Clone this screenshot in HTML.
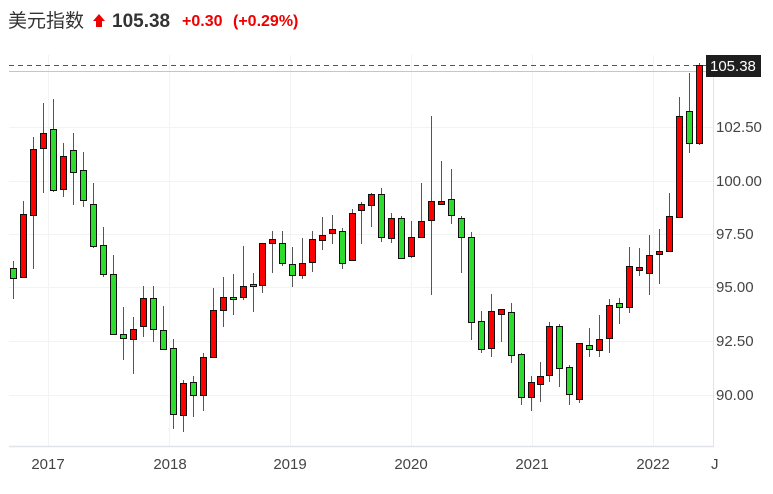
<!DOCTYPE html>
<html><head><meta charset="utf-8"><style>
body{margin:0;background:#fff;width:773px;height:489px;overflow:hidden;font-family:"Liberation Sans","Noto Sans CJK SC",sans-serif}
.w{stroke:#555;stroke-width:1}
.r{fill:#f00;stroke:#111}
.g{fill:#2ddc2d;stroke:#111}
</style></head><body>
<svg width="773" height="489" xmlns="http://www.w3.org/2000/svg" font-family="Liberation Sans, Noto Sans CJK SC, sans-serif">
<text x="8" y="27" font-size="19" fill="#333">美元指数</text>
<polygon points="99,14 105,21 102,21 102,27 96,27 96,21 93,21" fill="#e00"/>
<text x="112" y="27" font-size="19" font-weight="bold" fill="#333">105.38</text>
<text x="182" y="26" font-size="16" font-weight="bold" fill="#e00">+0.30</text>
<text x="233" y="26" font-size="16" font-weight="bold" fill="#e00">(+0.29%)</text>
<g stroke="#f2f3f5" stroke-width="1">
<line x1="9" y1="127.5" x2="713" y2="127.5"/><line x1="9" y1="181.5" x2="713" y2="181.5"/><line x1="9" y1="234.5" x2="713" y2="234.5"/><line x1="9" y1="287.5" x2="713" y2="287.5"/><line x1="9" y1="341.5" x2="713" y2="341.5"/><line x1="9" y1="395.5" x2="713" y2="395.5"/>
<line x1="48.5" y1="55" x2="48.5" y2="446"/><line x1="169.5" y1="55" x2="169.5" y2="446"/><line x1="290.5" y1="55" x2="290.5" y2="446"/><line x1="411.5" y1="55" x2="411.5" y2="446"/><line x1="532.5" y1="55" x2="532.5" y2="446"/><line x1="653.5" y1="55" x2="653.5" y2="446"/>
</g>
<line x1="713.5" y1="55" x2="713.5" y2="447" stroke="#dfe3ea"/>
<line x1="9" y1="446.5" x2="714" y2="446.5" stroke="#dfe3ea" stroke-width="1.5"/>
<line x1="9" y1="71.5" x2="713" y2="71.5" stroke="#f0b4b4"/>
<line x1="9" y1="65.5" x2="706" y2="65.5" stroke="#555" stroke-dasharray="5,4"/>
<g>
<line class="w" x1="13.5" y1="261" x2="13.5" y2="299"/><rect class="g" x="10.5" y="268.5" width="6" height="10"/>
<line class="w" x1="23.5" y1="201" x2="23.5" y2="277"/><rect class="r" x="20.5" y="214.5" width="6" height="63"/>
<line class="w" x1="33.5" y1="137" x2="33.5" y2="269"/><rect class="r" x="30.5" y="149.5" width="6" height="66"/>
<line class="w" x1="43.5" y1="103" x2="43.5" y2="193"/><rect class="r" x="40.5" y="133.5" width="6" height="15"/>
<line class="w" x1="53.5" y1="99" x2="53.5" y2="192"/><rect class="g" x="50.5" y="129.5" width="6" height="61"/>
<line class="w" x1="63.5" y1="143" x2="63.5" y2="197"/><rect class="r" x="60.5" y="156.5" width="6" height="33"/>
<line class="w" x1="73.5" y1="133" x2="73.5" y2="205"/><rect class="g" x="70.5" y="150.5" width="6" height="22"/>
<line class="w" x1="83.5" y1="152" x2="83.5" y2="207"/><rect class="g" x="80.5" y="170.5" width="6" height="30"/>
<line class="w" x1="93.5" y1="183" x2="93.5" y2="248"/><rect class="g" x="90.5" y="204.5" width="6" height="42"/>
<line class="w" x1="103.5" y1="227" x2="103.5" y2="277"/><rect class="g" x="100.5" y="245.5" width="6" height="29"/>
<line class="w" x1="113.5" y1="255" x2="113.5" y2="335"/><rect class="g" x="110.5" y="274.5" width="6" height="60"/>
<line class="w" x1="123.5" y1="307" x2="123.5" y2="360"/><rect class="g" x="120.5" y="334.5" width="6" height="4"/>
<line class="w" x1="133.5" y1="317" x2="133.5" y2="374"/><rect class="r" x="130.5" y="329.5" width="6" height="10"/>
<line class="w" x1="143.5" y1="286" x2="143.5" y2="337"/><rect class="r" x="140.5" y="298.5" width="6" height="28"/>
<line class="w" x1="153.5" y1="286" x2="153.5" y2="342"/><rect class="g" x="150.5" y="298.5" width="6" height="31"/>
<line class="w" x1="163.5" y1="306" x2="163.5" y2="350"/><rect class="g" x="160.5" y="330.5" width="6" height="19"/>
<line class="w" x1="173.5" y1="339" x2="173.5" y2="429"/><rect class="g" x="170.5" y="348.5" width="6" height="66"/>
<line class="w" x1="183.5" y1="380" x2="183.5" y2="432"/><rect class="r" x="180.5" y="383.5" width="6" height="32"/>
<line class="w" x1="193.5" y1="376" x2="193.5" y2="417"/><rect class="g" x="190.5" y="382.5" width="6" height="13"/>
<line class="w" x1="203.5" y1="353" x2="203.5" y2="411"/><rect class="r" x="200.5" y="357.5" width="6" height="38"/>
<line class="w" x1="213.5" y1="288" x2="213.5" y2="357"/><rect class="r" x="210.5" y="310.5" width="6" height="47"/>
<line class="w" x1="223.5" y1="277" x2="223.5" y2="327"/><rect class="r" x="220.5" y="297.5" width="6" height="13"/>
<line class="w" x1="233.5" y1="274" x2="233.5" y2="315"/><rect class="g" x="230.5" y="297.5" width="6" height="2"/>
<line class="w" x1="243.5" y1="246" x2="243.5" y2="300"/><rect class="r" x="240.5" y="286.5" width="6" height="11"/>
<line class="w" x1="253.5" y1="273" x2="253.5" y2="312"/><rect class="g" x="250.5" y="284.5" width="6" height="2"/>
<line class="w" x1="262.5" y1="243" x2="262.5" y2="293"/><rect class="r" x="259.5" y="243.5" width="6" height="42"/>
<line class="w" x1="272.5" y1="231" x2="272.5" y2="273"/><rect class="r" x="269.5" y="239.5" width="6" height="4"/>
<line class="w" x1="282.5" y1="231" x2="282.5" y2="266"/><rect class="g" x="279.5" y="243.5" width="6" height="20"/>
<line class="w" x1="292.5" y1="247" x2="292.5" y2="287"/><rect class="g" x="289.5" y="264.5" width="6" height="11"/>
<line class="w" x1="302.5" y1="238" x2="302.5" y2="279"/><rect class="r" x="299.5" y="263.5" width="6" height="12"/>
<line class="w" x1="312.5" y1="231" x2="312.5" y2="272"/><rect class="r" x="309.5" y="239.5" width="6" height="23"/>
<line class="w" x1="322.5" y1="217" x2="322.5" y2="250"/><rect class="r" x="319.5" y="235.5" width="6" height="5"/>
<line class="w" x1="332.5" y1="215" x2="332.5" y2="244"/><rect class="r" x="329.5" y="229.5" width="6" height="4"/>
<line class="w" x1="342.5" y1="228" x2="342.5" y2="269"/><rect class="g" x="339.5" y="231.5" width="6" height="32"/>
<line class="w" x1="352.5" y1="209" x2="352.5" y2="260"/><rect class="r" x="349.5" y="213.5" width="6" height="47"/>
<line class="w" x1="361.5" y1="202" x2="361.5" y2="244"/><rect class="r" x="358.5" y="204.5" width="6" height="6"/>
<line class="w" x1="371.5" y1="193" x2="371.5" y2="227"/><rect class="r" x="368.5" y="194.5" width="6" height="11"/>
<line class="w" x1="381.5" y1="188" x2="381.5" y2="242"/><rect class="g" x="378.5" y="194.5" width="6" height="43"/>
<line class="w" x1="391.5" y1="213" x2="391.5" y2="243"/><rect class="r" x="388.5" y="218.5" width="6" height="20"/>
<line class="w" x1="401.5" y1="216" x2="401.5" y2="259"/><rect class="g" x="398.5" y="218.5" width="6" height="40"/>
<line class="w" x1="411.5" y1="221" x2="411.5" y2="258"/><rect class="r" x="408.5" y="237.5" width="6" height="19"/>
<line class="w" x1="421.5" y1="183" x2="421.5" y2="237"/><rect class="r" x="418.5" y="221.5" width="6" height="16"/>
<line class="w" x1="431.5" y1="116" x2="431.5" y2="295"/><rect class="r" x="428.5" y="201.5" width="6" height="19"/>
<line class="w" x1="441.5" y1="161" x2="441.5" y2="205"/><rect class="r" x="438.5" y="201.5" width="6" height="3"/>
<line class="w" x1="451.5" y1="169" x2="451.5" y2="224"/><rect class="g" x="448.5" y="199.5" width="6" height="16"/>
<line class="w" x1="461.5" y1="216" x2="461.5" y2="273"/><rect class="g" x="458.5" y="218.5" width="6" height="19"/>
<line class="w" x1="471.5" y1="232" x2="471.5" y2="340"/><rect class="g" x="468.5" y="237.5" width="6" height="85"/>
<line class="w" x1="481.5" y1="311" x2="481.5" y2="353"/><rect class="g" x="478.5" y="321.5" width="6" height="28"/>
<line class="w" x1="491.5" y1="294" x2="491.5" y2="357"/><rect class="r" x="488.5" y="311.5" width="6" height="37"/>
<line class="w" x1="501.5" y1="309" x2="501.5" y2="342"/><rect class="r" x="498.5" y="309.5" width="6" height="5"/>
<line class="w" x1="511.5" y1="303" x2="511.5" y2="363"/><rect class="g" x="508.5" y="312.5" width="6" height="43"/>
<line class="w" x1="521.5" y1="353" x2="521.5" y2="405"/><rect class="g" x="518.5" y="354.5" width="6" height="43"/>
<line class="w" x1="531.5" y1="376" x2="531.5" y2="411"/><rect class="r" x="528.5" y="382.5" width="6" height="15"/>
<line class="w" x1="540.5" y1="362" x2="540.5" y2="402"/><rect class="r" x="537.5" y="376.5" width="6" height="8"/>
<line class="w" x1="549.5" y1="322" x2="549.5" y2="382"/><rect class="r" x="546.5" y="326.5" width="6" height="49"/>
<line class="w" x1="559.5" y1="324" x2="559.5" y2="387"/><rect class="g" x="556.5" y="326.5" width="6" height="42"/>
<line class="w" x1="569.5" y1="365" x2="569.5" y2="405"/><rect class="g" x="566.5" y="367.5" width="6" height="27"/>
<line class="w" x1="579.5" y1="343" x2="579.5" y2="403"/><rect class="r" x="576.5" y="343.5" width="6" height="56"/>
<line class="w" x1="589.5" y1="328" x2="589.5" y2="357"/><rect class="g" x="586.5" y="345.5" width="6" height="4"/>
<line class="w" x1="599.5" y1="315" x2="599.5" y2="357"/><rect class="r" x="596.5" y="339.5" width="6" height="11"/>
<line class="w" x1="609.5" y1="299" x2="609.5" y2="353"/><rect class="r" x="606.5" y="305.5" width="6" height="33"/>
<line class="w" x1="619.5" y1="298" x2="619.5" y2="324"/><rect class="g" x="616.5" y="303.5" width="6" height="4"/>
<line class="w" x1="629.5" y1="247" x2="629.5" y2="313"/><rect class="r" x="626.5" y="266.5" width="6" height="41"/>
<line class="w" x1="639.5" y1="248" x2="639.5" y2="276"/><rect class="r" x="636.5" y="267.5" width="6" height="3"/>
<line class="w" x1="649.5" y1="235" x2="649.5" y2="295"/><rect class="r" x="646.5" y="255.5" width="6" height="18"/>
<line class="w" x1="659.5" y1="229" x2="659.5" y2="284"/><rect class="r" x="656.5" y="251.5" width="6" height="3"/>
<line class="w" x1="669.5" y1="193" x2="669.5" y2="252"/><rect class="r" x="666.5" y="216.5" width="6" height="35"/>
<line class="w" x1="679.5" y1="97" x2="679.5" y2="217"/><rect class="r" x="676.5" y="116.5" width="6" height="101"/>
<line class="w" x1="689.5" y1="73" x2="689.5" y2="153"/><rect class="g" x="686.5" y="111.5" width="6" height="32"/>
<line class="w" x1="699.5" y1="63" x2="699.5" y2="145"/><rect class="r" x="696.5" y="65.5" width="6" height="78"/>
</g>
<g font-size="15" fill="#444">
<text x="716" y="132">102.50</text><text x="716" y="186">100.00</text><text x="716" y="239">97.50</text><text x="716" y="292">95.00</text><text x="716" y="346">92.50</text><text x="716" y="400">90.00</text>
<text x="48" y="469" text-anchor="middle">2017</text><text x="170" y="469" text-anchor="middle">2018</text><text x="290" y="469" text-anchor="middle">2019</text><text x="411" y="469" text-anchor="middle">2020</text><text x="532" y="469" text-anchor="middle">2021</text><text x="653" y="469" text-anchor="middle">2022</text><text x="711" y="469">J</text>
</g>
<rect x="706" y="55" width="55" height="22" fill="#1e1e1e"/>
<text x="710" y="71" font-size="15" fill="#fff">105.38</text>
</svg>
</body></html>
